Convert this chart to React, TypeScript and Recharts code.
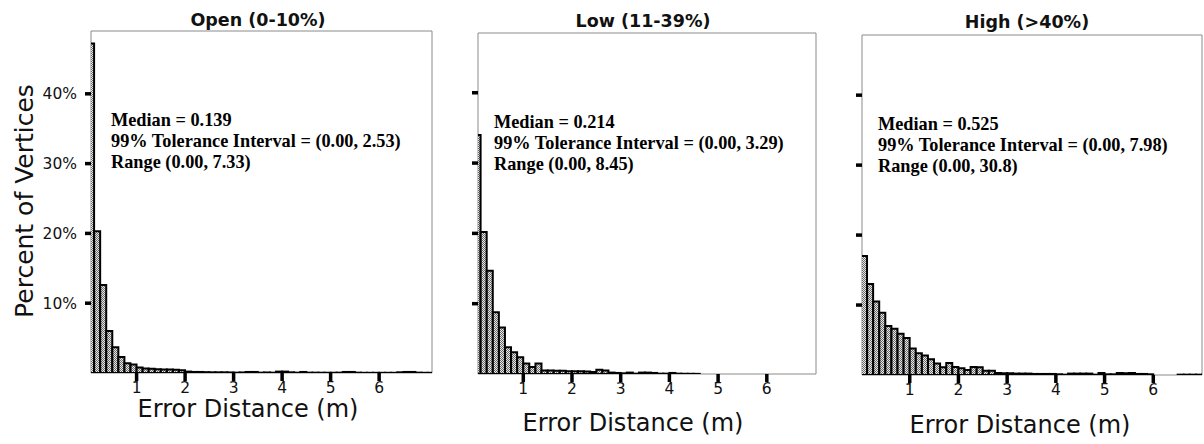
import React from 'react';
import { BarChart, Bar, XAxis, YAxis, ReferenceArea } from 'recharts';

// Histogram bin centres (bin width 0.125 m)
const BIN_CENTERS = [
  0.0625, 0.1875, 0.3125, 0.4375, 0.5625, 0.6875, 0.8125, 0.9375,
  1.0625, 1.1875, 1.3125, 1.4375, 1.5625, 1.6875, 1.8125, 1.9375,
  2.0625, 2.1875, 2.3125, 2.4375, 2.5625, 2.6875, 2.8125, 2.9375,
  3.0625, 3.1875, 3.3125, 3.4375, 3.5625, 3.6875, 3.8125, 3.9375,
  4.0625, 4.1875, 4.3125, 4.4375, 4.5625, 4.6875, 4.8125, 4.9375,
  5.0625, 5.1875, 5.3125, 5.4375, 5.5625, 5.6875, 5.8125, 5.9375,
  6.0625, 6.1875, 6.3125, 6.4375, 6.5625, 6.6875, 6.8125, 6.9375,
  7.0625,
];

// Percent of vertices per bin
const OPEN_VALUES = [
  47.2, 20.3, 12.6, 6.0, 3.7, 2.3, 1.4, 1.2,
  0.8, 0.65, 0.6, 0.55, 0.5, 0.5, 0.45, 0.4,
  0.2, 0.15, 0.15, 0.12, 0.1, 0.1, 0.1, 0.08,
  0.05, 0.08, 0.15, 0.15, 0.05, 0.08, 0.05, 0.2,
  0.2, 0.1, 0.05, 0.15, 0.05, 0.05, 0.04, 0.04,
  0.04, 0.05, 0.15, 0.15, 0.05, 0.03, 0.03, 0.03,
  0.03, 0.03, 0.03, 0.1, 0.15, 0.15, 0.05, 0.03,
  0.03,
];
const LOW_VALUES = [
  34, 20.2, 14.7, 8.8, 6.6, 3.8, 3.1, 2.4,
  1.5, 1.0, 1.5, 0.5, 0.5, 0.45, 0.45, 0.4,
  0.4, 0.4, 0.35, 0.3, 0.6, 0.5, 0.2, 0.15,
  0.1, 0.2, 0.05, 0.2, 0.2, 0.15, 0.05, 0.05,
  0.15, 0.05, 0.03, 0.03, 0.02, 0, 0, 0,
  0, 0, 0, 0, 0, 0, 0, 0,
  0, 0, 0, 0, 0, 0, 0, 0,
  0,
];
const HIGH_VALUES = [
  17.0, 13.0, 10.5, 8.9, 7.0, 6.6, 5.9, 5.3,
  3.8, 3.1, 2.8, 2.25, 1.65, 1.1, 1.7, 1.15,
  0.95, 0.7, 1.15, 1.1, 0.6, 0.6, 0.3, 0.25,
  0.25, 0.2, 0.2, 0.2, 0.15, 0.15, 0.15, 0.15,
  0.1, 0.05, 0.2, 0.2, 0.2, 0.2, 0.05, 0.3,
  0.1, 0.1, 0.3, 0.25, 0.3, 0.15, 0.15, 0.1,
  0, 0, 0, 0, 0.05, 0.05, 0.05, 0.05,
  0.05,
];

const X_TICKS = [1, 2, 3, 4, 5, 6];
const Y_TICKS = [10, 20, 30, 40];

const PANEL_TITLES = ['Open (0-10%)', 'Low (11-39%)', 'High (>40%)'];
const MEDIANS = ['0.139', '0.214', '0.525'];
const TOLERANCE = ['(0.00, 2.53)', '(0.00, 3.29)', '(0.00, 7.98)'];
const RANGES = ['(0.00, 7.33)', '(0.00, 8.45)', '(0.00, 30.8)'];

const X_TITLE = 'Error Distance (m)';
const Y_TITLE = 'Percent of Vertices';

const SANS = "'DejaVu Sans', sans-serif";
const SERIF = "'Liberation Serif', 'Times New Roman', serif";

type PanelCfg = {
  values: number[];
  left: number;
  width: number;
  margin: { top: number; left: number; right: number; bottom: number };
  yAxisWidth: number;
  xDomain: [number, number];
  yMax: number;
  showYLabels: boolean;
  title: { x: number; y: number };
  xTitle: { x: number; y: number };
  note: { x: number; y: number };
};

const PANELS: PanelCfg[] = [
  {
    values: OPEN_VALUES, left: 0, width: 440,
    margin: { top: 31, left: 51, right: 8, bottom: 41 }, yAxisWidth: 40,
    xDomain: [0.06, 7.09], yMax: 49, showYLabels: true,
    title: { x: 258, y: 26 }, xTitle: { x: 248, y: 417 }, note: { x: 111, y: 126 },
  },
  {
    values: LOW_VALUES, left: 440, width: 380,
    margin: { top: 33, left: 18, right: 4, bottom: 40 }, yAxisWidth: 20,
    xDomain: [0.07, 7.01], yMax: 48.5, showYLabels: false,
    title: { x: 643, y: 27 }, xTitle: { x: 633, y: 431 }, note: { x: 494, y: 128 },
  },
  {
    values: HIGH_VALUES, left: 820, width: 384,
    margin: { top: 35, left: 22, right: 2, bottom: 39 }, yAxisWidth: 20,
    xDomain: [0.02, 7.0], yMax: 48.6, showYLabels: false,
    title: { x: 1027, y: 28 }, xTitle: { x: 1020, y: 433 }, note: { x: 878, y: 130 },
  },
];

function Panel({ cfg, idx }: { cfg: PanelCfg; idx: number }) {
  const data = BIN_CENTERS.map((x, i) => ({ x, v: cfg.values[i] }));
  const pid = `stipple${idx}`;
  return (
    <div style={{ position: 'absolute', left: cfg.left, top: 0 }}>
      <BarChart
        width={cfg.width}
        height={444}
        data={data}
        margin={cfg.margin}
        barCategoryGap={0}
        barGap={0}
      >
        <defs>
          <pattern id={pid} width="2" height="2" patternUnits="userSpaceOnUse">
            <rect width="2" height="2" fill="#e8e8e8" />
            <rect width="1" height="1" fill="#6a6a6a" />
            <rect x="1" y="1" width="1" height="1" fill="#6a6a6a" />
          </pattern>
        </defs>
        <XAxis
          type="number"
          dataKey="x"
          domain={cfg.xDomain}
          allowDataOverflow
          ticks={X_TICKS}
          interval={0}
          axisLine={false}
          tickLine={{ stroke: '#000', strokeWidth: 3.5 }}
          tickSize={8}
          tickMargin={1}
          height={30}
          tick={{ fontSize: 15.5, fill: '#111', fontFamily: SANS }}
        />
        <YAxis
          type="number"
          domain={[0, cfg.yMax]}
          allowDataOverflow
          ticks={Y_TICKS}
          interval={0}
          axisLine={false}
          tickLine={{ stroke: '#000', strokeWidth: 3.5 }}
          tickSize={6}
          tickMargin={8}
          width={cfg.yAxisWidth}
          tickFormatter={(v: number) => (cfg.showYLabels ? `${v}%` : '')}
          tick={{ fontSize: 15.5, fill: '#111', fontFamily: SANS }}
        />
        <ReferenceArea
          x1={cfg.xDomain[0]}
          x2={cfg.xDomain[1]}
          y1={0}
          y2={cfg.yMax}
          ifOverflow="visible"
          fill="none"
          fillOpacity={0}
          stroke="#8a8a8a"
          strokeWidth={1}
        />
        <Bar
          dataKey="v"
          fill={`url(#${pid})`}
          stroke="#000"
          strokeWidth={2}
          isAnimationActive={false}
        />
      </BarChart>
    </div>
  );
}

export default function App() {
  return (
    <div
      style={{
        position: 'absolute', left: 0, top: 0, width: 1204, height: 444,
        background: '#fff', overflow: 'hidden',
      }}
    >
      {PANELS.map((p, i) => (
        <Panel key={i} cfg={p} idx={i} />
      ))}
      <svg
        width={1204}
        height={444}
        style={{ position: 'absolute', left: 0, top: 0, pointerEvents: 'none' }}
      >
        <text
          transform="translate(33 201) rotate(-90)"
          textAnchor="middle"
          fontFamily={SANS}
          fontSize={25}
          fill="#111"
        >
          {Y_TITLE}
        </text>
        {PANELS.map((p, i) => (
          <g key={i}>
            <text x={p.title.x} y={p.title.y} textAnchor="middle" fontFamily={SANS}
              fontWeight="bold" fontSize={17.5} fill="#111">
              {PANEL_TITLES[i]}
            </text>
            <text x={p.xTitle.x} y={p.xTitle.y} textAnchor="middle" fontFamily={SANS}
              fontSize={24} fill="#111">
              {X_TITLE}
            </text>
            <g fontFamily={SERIF} fontWeight="bold" fontSize={18.3} fill="#000">
              <text x={p.note.x} y={p.note.y}>{`Median = ${MEDIANS[i]}`}</text>
              <text x={p.note.x} y={p.note.y + 21}>{`99% Tolerance Interval = ${TOLERANCE[i]}`}</text>
              <text x={p.note.x} y={p.note.y + 42}>{`Range ${RANGES[i]}`}</text>
            </g>
          </g>
        ))}
      </svg>
    </div>
  );
}
